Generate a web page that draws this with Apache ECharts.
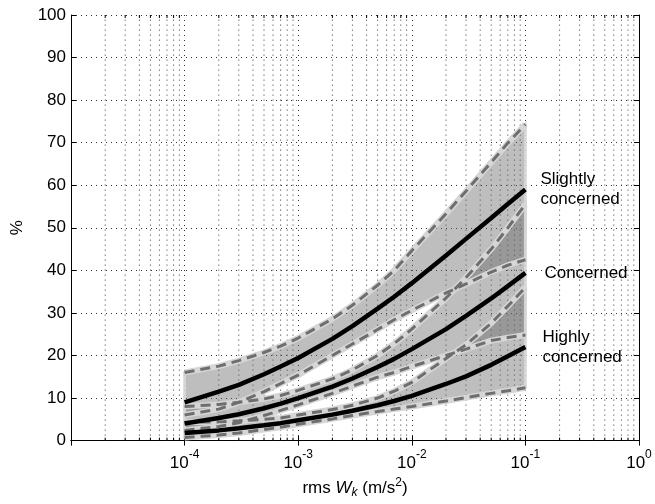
<!DOCTYPE html>
<html><head><meta charset="utf-8">
<script src="https://cdn.jsdelivr.net/npm/echarts@6/dist/echarts.min.js"></script>
<style>html,body{margin:0;padding:0;background:#fff}#c{width:655px;height:504px}</style>
</head><body><div id="c"></div>
<script>
// ---- data ----
const xVals = [1e-4, 2e-4, 3e-4, 5e-4, 7e-4, 1e-3, 2e-3, 3e-3, 5e-3, 7e-3, 1e-2, 2e-2, 3e-2, 5e-2, 7e-2, 1e-1];
const slightMean  = [9.0, 11.5, 13.1, 15.6, 17.4, 19.4, 23.9, 26.9, 31.0, 33.8, 37.0, 43.5, 47.4, 52.3, 55.6, 59.0];
const slightUpper = [16.0, 17.5, 18.8, 20.7, 22.2, 24.1, 28.6, 31.8, 36.5, 40.0, 44.6, 53.3, 58.6, 65.4, 69.9, 74.3];
const slightLower = [6.0, 7.4, 9.0, 11.5, 13.4, 15.4, 20.0, 22.7, 26.1, 28.4, 30.6, 34.7, 36.8, 39.6, 41.2, 42.5];
const concMean  = [4.0, 5.3, 6.2, 7.6, 8.7, 10.0, 12.7, 14.6, 17.3, 19.2, 21.5, 26.2, 29.3, 33.4, 36.3, 39.4];
const concUpper = [8.0, 8.5, 9.0, 9.8, 10.6, 11.8, 14.5, 16.6, 20.0, 22.8, 26.2, 33.5, 38.3, 45.0, 50.0, 55.5];
const concLower = [2.4, 3.3, 4.2, 5.9, 7.1, 8.4, 11.1, 12.8, 14.9, 16.0, 17.4, 20.0, 21.5, 23.5, 24.2, 24.8];
const highMean  = [1.8, 2.4, 2.9, 3.6, 4.1, 4.8, 6.1, 7.0, 8.3, 9.3, 10.5, 13.3, 15.1, 17.8, 19.8, 22.0];
const highUpper = [4.3, 4.4, 4.65, 5.0, 5.3, 6.0, 7.3, 8.3, 10.0, 11.6, 13.7, 19.3, 22.5, 27.6, 31.6, 36.0];
const highLower = [0.75, 1.3, 1.8, 2.6, 3.15, 3.85, 5.1, 5.9, 6.85, 7.4, 8.0, 9.3, 10.1, 11.1, 11.7, 12.4];
const groupNames = ['Slightly\nconcerned', 'Concerned', 'Highly\nconcerned'];
const xTickExps = [-5, -4, -3, -2, -1, 0];
const yTickLabels = ['0','10','20','30','40','50','60','70','80','90','100'];
const minorFactors = [2, 3, 4, 5, 6, 7, 8, 9];

// ---- build options ----
const FONT = 'Liberation Sans, Arial, Helvetica, sans-serif';
const groups = [
  {name: groupNames[0], mean: slightMean, up: slightUpper, lo: slightLower, off: 7},
  {name: groupNames[1], mean: concMean, up: concUpper, lo: concLower, off: 11},
  {name: groupNames[2], mean: highMean, up: highUpper, lo: highLower, off: 9}
];
const pts = arr => xVals.map((x, i) => [x, arr[i]]);
const series = [];

// minor grid lines and minor ticks at 2..9 x 10^n
const minorXs = [];
xTickExps.slice(0, -1).forEach(e => minorFactors.forEach(f => minorXs.push([f * Math.pow(10, e), 0])));
series.push({
  type: 'custom', z: 1, silent: true, data: minorXs, encode: {x: 0, y: 1}, clip: false,
  renderItem: function (params, api) {
    const v = api.value(0);
    const p0 = api.coord([v, 0]);
    const p1 = api.coord([v, 100]);
    return {type: 'group', children: [
      {type: 'line', shape: {x1: p0[0], y1: p0[1], x2: p1[0], y2: p1[1]}, style: {stroke: '#333', lineWidth: 1, lineDash: [1, 4]}},
      {type: 'line', shape: {x1: p0[0], y1: p0[1], x2: p0[0], y2: p0[1] - 3}, style: {stroke: '#000', lineWidth: 1}},
      {type: 'line', shape: {x1: p1[0], y1: p1[1], x2: p1[0], y2: p1[1] + 3}, style: {stroke: '#000', lineWidth: 1}}
    ]};
  }
});

// confidence band fills (translucent so overlaps darken)
series.push({
  type: 'custom', z: 2, silent: true, clip: true,
  data: groups.map((g, gi) => [xVals[0], g.lo[0], gi]),
  encode: {x: 0, y: 1},
  renderItem: function (params, api) {
    const g = groups[api.value(2)];
    const top = g.up.map((v, i) => api.coord([xVals[i], v]));
    const bot = g.lo.map((v, i) => api.coord([xVals[i], v])).reverse();
    return {type: 'polygon', shape: {points: top.concat(bot)},
      style: {fill: 'rgba(100,100,100,0.42)', stroke: 'rgba(215,215,215,0.9)', lineWidth: 3}};
  }
});

groups.forEach(g => {
  [g.up, g.lo].forEach(arr => {
    series.push({type: 'line', z: 3, silent: true, symbol: 'none', data: pts(arr),
      lineStyle: {color: '#d6d6d6', width: 6}});
  });
});
groups.forEach(g => {
  [g.up, g.lo].forEach(arr => {
    series.push({type: 'line', z: 4, silent: true, symbol: 'none', data: pts(arr),
      lineStyle: {color: '#6e6e6e', width: 3, type: [10, 6]}});
  });
});
groups.forEach(g => {
  series.push({type: 'line', z: 5, silent: true, symbol: 'none', data: pts(g.mean),
    lineStyle: {color: '#000', width: 4.5},
    endLabel: {show: true, formatter: () => g.name, offset: [g.off, 0], color: '#000',
      fontSize: 17, lineHeight: 20, fontFamily: FONT}
  });
});

const gridLine = {show: true, lineStyle: {color: '#333', width: 1, type: [1, 4]}};
const chart = echarts.init(document.getElementById('c'), null, {renderer: 'canvas'});
chart.setOption({
  animation: false,
  backgroundColor: '#fff',
  grid: {left: 71, right: 16, top: 15, bottom: 55, containLabel: false},
  xAxis: [{
    type: 'log', logBase: 10, min: 1e-5, max: 1, position: 'bottom',
    axisLine: {show: true, lineStyle: {color: '#000', width: 1}},
    axisTick: {show: true, inside: true, length: 5, lineStyle: {color: '#000'}},
    splitLine: gridLine,
    axisLabel: {
      margin: 8, showMinLabel: false, color: '#000',
      formatter: v => '{b|10}{s|' + xTickExps[xTickExps.indexOf(Math.round(Math.log10(v)))] + '}',
      rich: {b: {fontSize: 17, fontFamily: FONT, color: '#000'},
             s: {fontSize: 12, fontFamily: FONT, color: '#000', padding: [0, 0, 18, 0]}}
    },
    name: '{n|rms }{i|W}{sub|k}{n| (m/s}{sup|2}{n|)}',
    nameLocation: 'middle', nameGap: 31,
    nameTextStyle: {rich: {
      n: {fontSize: 17, fontFamily: FONT, color: '#000'},
      i: {fontSize: 17, fontFamily: FONT, color: '#000', fontStyle: 'italic'},
      sub: {fontSize: 12, fontFamily: FONT, color: '#000', fontStyle: 'italic', padding: [10, 0, 0, 0]},
      sup: {fontSize: 12, fontFamily: FONT, color: '#000', padding: [0, 0, 10, 0]}
    }}
  }, {
    type: 'log', logBase: 10, min: 1e-5, max: 1, position: 'top',
    axisLine: {show: true, lineStyle: {color: '#000', width: 1}},
    axisTick: {show: true, inside: true, length: 5, lineStyle: {color: '#000'}},
    axisLabel: {show: false}, splitLine: {show: false}
  }],
  yAxis: [{
    type: 'value', min: 0, max: 100, interval: 10, position: 'left',
    axisLine: {show: true, lineStyle: {color: '#000', width: 1}},
    axisTick: {show: true, inside: true, length: 5, lineStyle: {color: '#000'}},
    splitLine: gridLine,
    axisLabel: {margin: 5, color: '#000', fontSize: 17, fontFamily: FONT,
      formatter: v => yTickLabels[Math.round(v / 10)]},
    name: '%', nameLocation: 'middle', nameRotate: 90, nameGap: 45,
    nameTextStyle: {fontSize: 17, fontFamily: FONT, color: '#000'}
  }, {
    type: 'value', min: 0, max: 100, interval: 10, position: 'right',
    axisLine: {show: true, lineStyle: {color: '#000', width: 1}},
    axisTick: {show: true, inside: true, length: 5, lineStyle: {color: '#000'}},
    axisLabel: {show: false}, splitLine: {show: false}
  }],
  series: series
});
</script></body></html>
